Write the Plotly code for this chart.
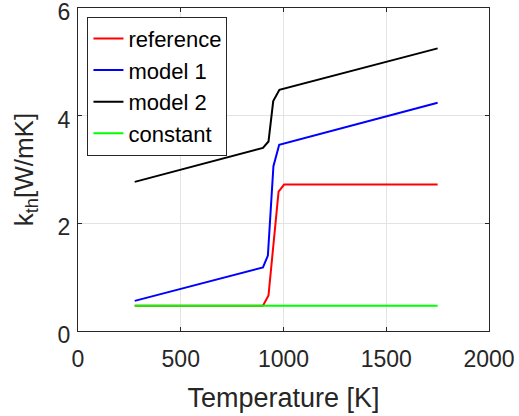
import plotly.graph_objects as go

# Data
ref_T = [276, 900, 927, 976, 1003, 1750]
ref_k = [0.47, 0.47, 0.66, 2.59, 2.72, 2.72]

m1_T = [276, 900, 924, 951, 979, 1750]
m1_k = [0.56, 1.18, 1.40, 3.06, 3.46, 4.24]

m2_T = [276, 900, 927, 950, 980, 1750]
m2_k = [2.77, 3.40, 3.52, 4.27, 4.48, 5.25]

c_T = [276, 1750]
c_k = [0.47, 0.47]

names = ["reference", "model 1", "model 2", "constant"]
colors = ["#ff0000", "#0000ff", "#000000", "#00ff00"]
series = [(ref_T, ref_k), (m1_T, m1_k), (m2_T, m2_k), (c_T, c_k)]

x_ticks = [0, 500, 1000, 1500, 2000]
y_ticks = [0, 2, 4, 6]

fig = go.Figure()
for (t, k), n, c in zip(series, names, colors):
    fig.add_trace(go.Scatter(x=t, y=k, mode="lines", name=n,
                             line=dict(color=c, width=2)))

axis_common = dict(
    showline=True, mirror="ticks", linecolor="#262626", linewidth=1,
    ticks="inside", ticklen=4, tickcolor="#262626",
    showgrid=True, gridcolor="#e3e3e3", gridwidth=1, zeroline=False,
    ticklabeloverflow="allow", automargin=False,
    tickfont=dict(family="Liberation Sans, Arial", size=23, color="#262626"),
)

fig.update_layout(
    width=519, height=416,
    margin=dict(l=78, r=30, t=8, b=85),
    paper_bgcolor="white", plot_bgcolor="white",
    font=dict(family="Liberation Sans, Arial", color="#262626"),
    xaxis=dict(range=[0, 2000], tickvals=x_ticks, ticklabelstandoff=7,
               title=dict(text="Temperature [K]", font=dict(size=27, color="#262626"), standoff=17),
               **axis_common),
    yaxis=dict(range=[0, 6], tickvals=y_ticks, ticklabelstandoff=2, ticklabelshift=4,
               title=dict(text="k<sub>th</sub>[W/mK]", font=dict(size=26, color="#262626"), standoff=16),
               **axis_common),
    legend=dict(x=0.023, y=0.973, xanchor="left", yanchor="top",
                bgcolor="white", bordercolor="#262626", borderwidth=1,
                font=dict(size=22, color="#000000"), tracegroupgap=0,
                itemwidth=30),
    showlegend=True,
)

fig.write_html("out.html", config={"displayModeBar": False},
               post_script="document.body.style.margin='0';")
